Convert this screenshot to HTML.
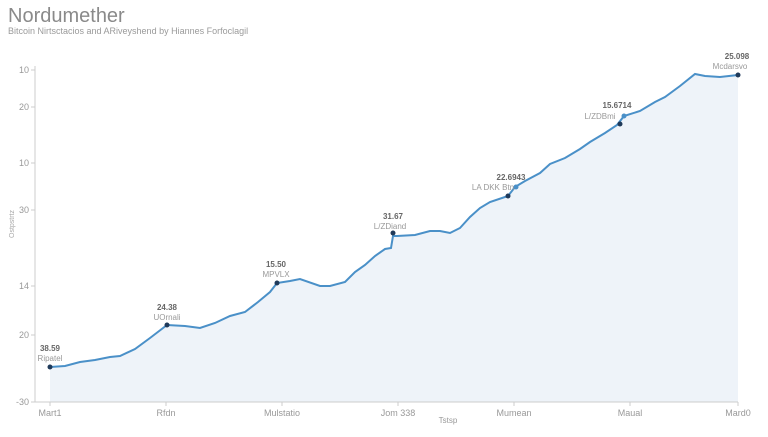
<!DOCTYPE html>
<html><head><meta charset="utf-8"><style>
body{margin:0;background:#fff;width:768px;height:432px;overflow:hidden;font-family:"Liberation Sans",sans-serif}
</style></head><body>
<svg width="768" height="432" xmlns="http://www.w3.org/2000/svg" font-family="Liberation Sans, sans-serif">
<text x="8" y="22" font-size="20" fill="#8a8a8a">Nordumether</text>
<text x="8" y="34" font-size="9" fill="#9a9a9a">Bitcoin Nirtsctacios and ARiveyshend by Hiannes Forfoclagil</text>
<path d="M50,367 L65,366 L80,362 L95,360 L110,357 L120,356 L135,349 L150,338 L167,325 L185,326 L200,328 L215,323 L230,316 L245,312 L258,302 L270,292 L277,283 L290,281 L300,279 L320,286 L330,286 L345,282 L355,272 L365,265 L375,256 L385,249 L391,248 L393,236 L397,236 L415,235 L430,231 L440,231 L450,233 L460,228 L470,217 L480,208 L490,202 L508,196 L515,187 L525,181 L540,173 L550,164 L565,158 L580,149 L590,142 L605,133 L617,125 L624,116 L640,111 L655,102 L665,97 L680,86 L695,74 L705,76 L720,77 L738,75 L738,402 L50,402 Z" fill="#eef3f9"/>
<path d="M50,367 L65,366 L80,362 L95,360 L110,357 L120,356 L135,349 L150,338 L167,325 L185,326 L200,328 L215,323 L230,316 L245,312 L258,302 L270,292 L277,283 L290,281 L300,279 L320,286 L330,286 L345,282 L355,272 L365,265 L375,256 L385,249 L391,248 L393,236 L397,236 L415,235 L430,231 L440,231 L450,233 L460,228 L470,217 L480,208 L490,202 L508,196 L515,187 L525,181 L540,173 L550,164 L565,158 L580,149 L590,142 L605,133 L617,125 L624,116 L640,111 L655,102 L665,97 L680,86 L695,74 L705,76 L720,77 L738,75" fill="none" stroke="#4a90c8" stroke-width="2"/>
<g stroke="#ccc" stroke-width="1">
<line x1="35" y1="66" x2="35" y2="402"/><line x1="35" y1="402" x2="738" y2="402"/>
<line x1="31" y1="70" x2="35" y2="70"/><line x1="31" y1="107" x2="35" y2="107"/><line x1="31" y1="163" x2="35" y2="163"/><line x1="31" y1="210" x2="35" y2="210"/><line x1="31" y1="286" x2="35" y2="286"/><line x1="31" y1="335" x2="35" y2="335"/><line x1="31" y1="402" x2="35" y2="402"/>
<line x1="50" y1="402" x2="50" y2="406"/><line x1="166" y1="402" x2="166" y2="406"/><line x1="282" y1="402" x2="282" y2="406"/><line x1="398" y1="402" x2="398" y2="406"/><line x1="514" y1="402" x2="514" y2="406"/><line x1="630" y1="402" x2="630" y2="406"/><line x1="738" y1="402" x2="738" y2="406"/>
</g>
<g font-size="9" fill="#999" text-anchor="end">
<text x="29" y="73">10</text><text x="29" y="110">20</text><text x="29" y="166">10</text><text x="29" y="213">30</text><text x="29" y="289">14</text><text x="29" y="338">20</text><text x="29" y="405">-30</text>
</g>
<text transform="translate(14,224) rotate(-90)" font-size="7" fill="#aaa" text-anchor="middle">Ostpstrtz</text>
<g font-size="9" fill="#999" text-anchor="middle">
<text x="50" y="416">Mart1</text><text x="166" y="416">Rfdn</text><text x="282" y="416">Mulstatio</text><text x="398" y="416">Jom 338</text><text x="514" y="416">Mumean</text><text x="630" y="416">Maual</text><text x="738" y="416">Mard0</text>
<text x="448" y="423" font-size="8">Tstsp</text>
</g>
<g fill="#1f3a5a">
<circle cx="50" cy="367" r="2.5"/><circle cx="167" cy="325" r="2.5"/><circle cx="277" cy="283" r="2.5"/><circle cx="393" cy="233" r="2.5"/><circle cx="508" cy="196" r="2.5"/><circle cx="620" cy="124" r="2.5"/><circle cx="738" cy="75" r="2.5"/>
</g>
<circle cx="516" cy="187" r="2.5" fill="#4a90c8"/><circle cx="624" cy="116" r="2.5" fill="#4a90c8"/>
<g font-size="8" text-anchor="middle">
<g fill="#666" font-weight="bold"><text x="50" y="351">38.59</text><text x="167" y="310">24.38</text><text x="276" y="267">15.50</text><text x="393" y="219">31.67</text><text x="511" y="180">22.6943</text><text x="617" y="108">15.6714</text><text x="737" y="59">25.098</text></g>
<g fill="#999"><text x="50" y="361">Ripatel</text><text x="167" y="320">UOrnali</text><text x="276" y="277">MPVLX</text><text x="390" y="229">L/ZDiand</text><text x="493" y="190">LA DKK Btn</text><text x="600" y="119">L/ZDBmi</text><text x="730" y="69">Mcdarsvo</text></g>
</g>
</svg>
</body></html>
